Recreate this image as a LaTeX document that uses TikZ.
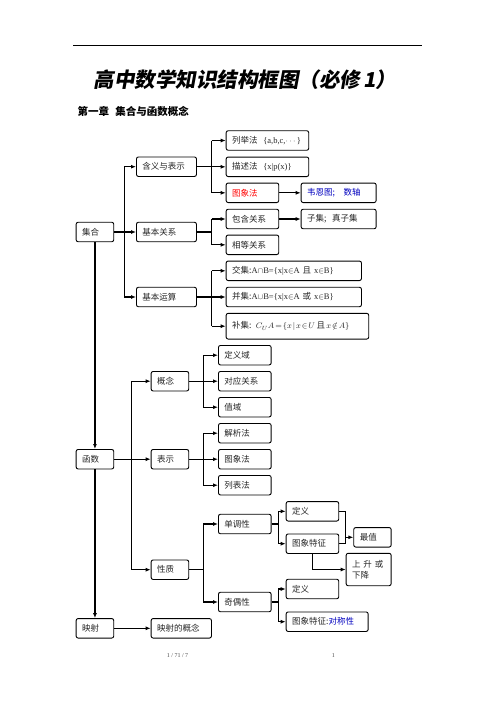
\documentclass[tikz,border=0pt]{standalone}
\usepackage{amsmath,amssymb}
\usepackage{fontspec}
\setmainfont{Liberation Serif}
\newfontfamily\cjk{Noto Sans CJK SC}
\newfontfamily\titlefont[FakeSlant=0.18]{Noto Sans CJK SC}
\newfontfamily\lat{Liberation Serif}
\usetikzlibrary{arrows.meta,calc,positioning}
\newcommand{\boxfont}{\cjk\fontsize{8.5}{11}\selectfont\medmuskip=1mu\thickmuskip=2mu}
\tikzset{
  box/.style  = {draw, line width=0.9pt, rounded corners=2pt, anchor=west, align=left,
                 inner xsep=6pt, inner ysep=0pt, minimum height=19.5pt,
                 font=\boxfont, text=black!85},
  wire/.style = {line width=1.1pt},
  link/.style = {wire, -{Latex[length=5pt,width=4pt]}},
}

\begin{document}
\begin{tikzpicture}[x=1pt,y=-1pt]
  \useasboundingbox[fill=white] (0,0) rectangle (496,702);
  % header
  \draw[line width=0.8pt] (73.3,45) -- (421.7,45);
  \node[font=\titlefont\bfseries\fontsize{20.5}{24}\selectfont] (title) at (245,80)
    {高中数学知识结构框图（必修\,\textit{1}）};
  \node[anchor=west, font=\cjk\bfseries\fontsize{10.5}{12}\selectfont] (chap) at (74,111.7)
    {第一章\hspace{0.6em}集合与函数概念};

  % sets
  \node[box, text width=25.6pt] (jihe)    at (75.7,232)  {集合};
  \node[box, text width=48pt]   (hanyi)   at (136,166.7) {含义与表示};
  \node[box, text width=48pt]   (guanxi)  at (136,232)   {基本关系};
  \node[box, text width=48pt]   (yunsuan) at (136,297)   {基本运算};
  \node[box, text width=70.6pt] (liju)    at (225.7,140.5)
    {列举法\ \ {\lat\{a,b,c,}$\cdots${\lat\}}};
  \node[box, text width=70.6pt] (miaoshu) at (225.7,166.8)
    {描述法\ \ {\lat\{x|p(x)\}}};
  \node[box, text width=40.6pt, text=red] (tuxiang) at (225.7,192.8) {图象法};
  \node[box, text width=63pt, text=blue!75!black] (venn) at (300.7,192.8) {韦恩图;\quad 数轴};
  \node[box, text width=40.6pt] (baohan)  at (225.7,219)   {包含关系};
  \node[box, text width=63pt]   (ziji)    at (300.7,219)   {子集;\ \ 真子集};
  \node[box, text width=40.6pt] (xiangdeng) at (225.7,244.8) {相等关系};
  \node[box, text width=123.3pt] (jiao)   at (225.7,270.8)
    {交集:{\lat A}$\cap${\lat B=\{x|x}$\in${\lat A} 且 {\lat x}$\in${\lat B\}}};
  \node[box, text width=123.3pt] (bing)   at (225.7,297)
    {并集:{\lat A}$\cup${\lat B=\{x|x}$\in${\lat A} 或 {\lat x}$\in${\lat B\}}};
  \node[box, text width=130.6pt, minimum height=25.7pt] (bu) at (225.7,326.2)
    {补集: $C_U A=\{x\mid x\in U$\,且\,$x\notin A\}$};

  \coordinate (b1) at (124.3,0);
  \draw[wire] (b1 |- hanyi) -- (b1 |- yunsuan);
  \draw[link] (jihe.east) -- (guanxi.west);
  \foreach \n in {hanyi,yunsuan}
    \draw[link] (b1 |- \n) -- (\n.west);

  \coordinate (b2) at (211.7,0);
  \draw[wire] (hanyi.east) -- (b2 |- hanyi);
  \draw[wire] (b2 |- liju) -- (b2 |- tuxiang);
  \foreach \n in {liju,miaoshu,tuxiang}
    \draw[link] (b2 |- \n) -- (\n.west);
  \draw[link] (tuxiang.east) -- (venn.west);
  \draw[wire] (guanxi.east) -- (b2 |- guanxi);
  \draw[wire] (b2 |- baohan) -- (b2 |- xiangdeng);
  \foreach \n in {baohan,xiangdeng}
    \draw[link] (b2 |- \n) -- (\n.west);
  \draw[link] (baohan.east) -- (ziji.west);
  \draw[wire] (yunsuan.east) -- (b2 |- yunsuan);
  \draw[wire] (b2 |- jiao) -- (b2 |- bu);
  \foreach \n in {jiao,bing,bu}
    \draw[link] (b2 |- \n) -- (\n.west);

  % functions
  \node[box, text width=25.6pt] (hanshu)  at (75.7,459.2)  {函数};
  \node[box, text width=25.6pt] (gainian) at (150.7,381.2) {概念};
  \node[box, text width=25.6pt] (biaoshi) at (150.7,459.2) {表示};
  \node[box, text width=25.6pt] (xingzhi) at (150.7,569.7) {性质};
  \node[box, text width=40.7pt] (dingyiyu) at (218,355.2)  {定义域};
  \node[box, text width=40.7pt] (duiying)  at (218,381.2)  {对应关系};
  \node[box, text width=40.7pt] (zhiyu)    at (218,407.2)  {值域};
  \node[box, text width=40.7pt] (jiexi)    at (218,433.2)  {解析法};
  \node[box, text width=40.7pt] (tuxiangfa) at (218,459.2) {图象法};
  \node[box, text width=40.7pt] (liebiao)  at (218,485.2)  {列表法};
  \node[box, text width=40.7pt] (dandiao)  at (218,524)    {单调性};
  \node[box, text width=40.7pt] (jiou)     at (218,602)    {奇偶性};
  \node[box, text width=40.6pt] (dingyiA)  at (285.7,511.3) {定义};
  \node[box, text width=40.6pt] (tezhengA) at (285.7,543.7) {图象特征};
  \node[box, text width=25.4pt] (zuizhi)   at (353.3,537.3) {最值};
  \node[box, text width=33pt, minimum height=32.4pt] (shengjiang) at (345.7,569.5)
    {上\ 升\ 或\\下降};
  \node[box, text width=40.6pt] (dingyiB)  at (285.7,589)  {定义};
  \node[box, text width=70pt]   (tezhengB) at (285.7,621.7)
    {图象特征:{\color{blue!75!black}对称性}};
  \node[box, text width=25.6pt] (yingshe)  at (75.7,628.3) {映射};
  \node[box, text width=48.3pt] (yinggn)   at (150.7,628.3) {映射的概念};

  \draw[link] (jihe.south) -- (hanshu.north);
  \draw[link] (hanshu.south) -- (yingshe.north);
  \draw[link] (yingshe.east) -- (yinggn.west);

  \coordinate (b3) at (131.7,0);
  \draw[wire] (hanshu.east) -- (b3 |- hanshu);
  \draw[wire] (b3 |- gainian) -- (b3 |- xingzhi);
  \foreach \n in {gainian,biaoshi,xingzhi}
    \draw[link] (b3 |- \n) -- (\n.west);

  \coordinate (b4) at (203.3,0);
  \draw[wire] (gainian.east) -- (b4 |- gainian);
  \draw[wire] (b4 |- dingyiyu) -- (b4 |- zhiyu);
  \foreach \n in {dingyiyu,duiying,zhiyu}
    \draw[link] (b4 |- \n) -- (\n.west);
  \draw[wire] (biaoshi.east) -- (b4 |- biaoshi);
  \draw[wire] (b4 |- jiexi) -- (b4 |- liebiao);
  \foreach \n in {jiexi,tuxiangfa,liebiao}
    \draw[link] (b4 |- \n) -- (\n.west);
  \draw[wire] (xingzhi.east) -- (b4 |- xingzhi);
  \draw[wire] (b4 |- dandiao) -- (b4 |- jiou);
  \foreach \n in {dandiao,jiou}
    \draw[link] (b4 |- \n) -- (\n.west);

  \coordinate (b5) at (278.3,0);
  \draw[wire] (dandiao.east) -- (b5 |- dandiao);
  \draw[wire] (b5 |- dingyiA) -- (b5 |- tezhengA);
  \foreach \n in {dingyiA,tezhengA}
    \draw[link] (b5 |- \n) -- (\n.west);
  \draw[wire] (jiou.east) -- (b5 |- jiou);
  \draw[wire] (b5 |- dingyiB) -- (b5 |- tezhengB);
  \foreach \n in {dingyiB,tezhengB}
    \draw[link] (b5 |- \n) -- (\n.west);

  \coordinate (m1) at (345.7,0);
  \draw[wire] (dingyiA.east) -- (m1 |- dingyiA) -- (m1 |- tezhengA) -- (tezhengA.east);
  \draw[link] (m1 |- zuizhi) -- (zuizhi.west);
  \draw[link] (tezhengA.south) |- (shengjiang.west);

  % footer
  \node[font=\lat\fontsize{6}{7}\selectfont, text=black!70] (pg)  at (177.5,655.7) {1 / 71 / 7};
  \node[font=\lat\fontsize{6}{7}\selectfont, text=black!70] (num) at (333.3,655.7) {1};
\end{tikzpicture}
\end{document}
